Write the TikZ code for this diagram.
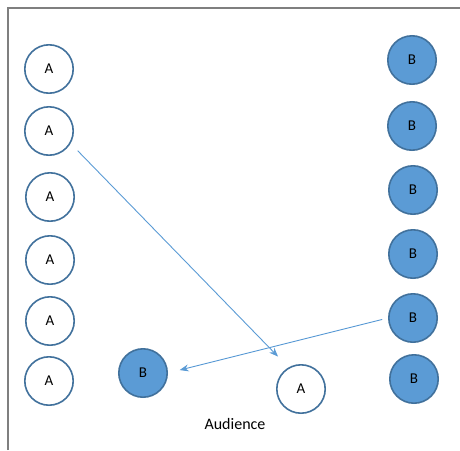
\documentclass[tikz,border=0pt]{standalone}
\usepackage{fontspec}
\setmainfont{Carlito}
\usetikzlibrary{arrows.meta}
\definecolor{ringblue}{HTML}{41719C}
\definecolor{fillblue}{HTML}{5B9BD5}
\definecolor{framegray}{HTML}{7F7F7F}
\tikzset{
  aperson/.style={circle, draw=ringblue, fill=white, line width=1.6pt, minimum size=48.4pt, inner sep=0pt, font=\fontsize{15}{15}\selectfont},
  bperson/.style={circle, draw=ringblue, fill=fillblue, line width=1.6pt, minimum size=48.4pt, inner sep=0pt, font=\fontsize{15}{15}\selectfont},
  move/.style={draw=fillblue, line width=0.9pt, -{Stealth[length=9pt,width=7pt]}},
  frameline/.style={draw=framegray, line width=1.6pt}
}
\begin{document}
\begin{tikzpicture}[x=1pt,y=-1pt]
\useasboundingbox (0,0) rectangle (460,450);
% frame along the left and top edges
\coordinate (fbl) at (8,450);
\coordinate (ftl) at (8,8);
\coordinate (ftr) at (460,8);
\draw[frameline] (fbl) -- (ftl) -- (ftr);
% group A on the left
\node[aperson] (A1) at (49,69) {A};
\node[aperson] (A2) at (49,131) {A};
\node[aperson] (A3) at (50,197) {A};
\node[aperson] (A4) at (50,260) {A};
\node[aperson] (A5) at (50,321) {A};
\node[aperson] (A6) at (49,381) {A};
% group B on the right
\node[bperson] (B1) at (412,60) {B};
\node[bperson] (B2) at (412,126) {B};
\node[bperson] (B3) at (413,190) {B};
\node[bperson] (B4) at (413,254) {B};
\node[bperson] (B5) at (413,318) {B};
\node[bperson] (B6) at (414,379) {B};
% moved members in the audience
\node[bperson] (Bm) at (143,373) {B};
\node[aperson] (Am) at (301,389) {A};
\node[font=\fontsize{16}{16}\selectfont] (aud) at (235,424) {Audience};
% moves
\draw[move, shorten <=10pt, shorten >=15pt] (A2.-30) -- (Am.120);
\draw[move, shorten <=6pt, shorten >=12pt] (B5.west) -- (Bm.east);
\end{tikzpicture}
\end{document}
